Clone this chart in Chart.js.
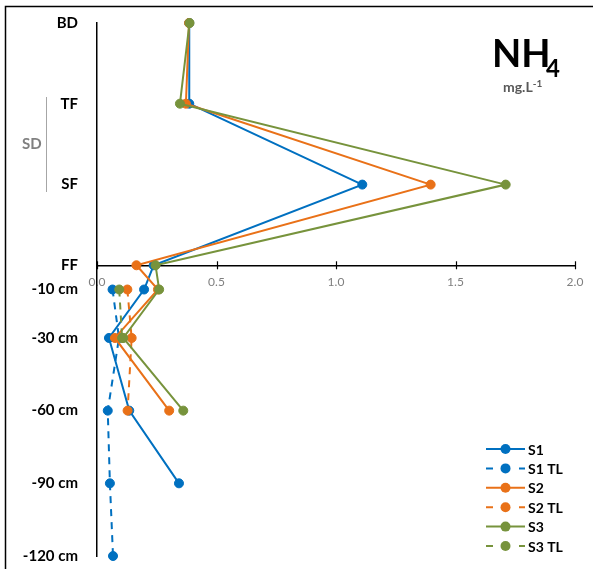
<!DOCTYPE html>
<html>
<head>
<meta charset="utf-8">
<script src="https://cdn.jsdelivr.net/npm/chart.js@4/dist/chart.umd.min.js"></script>
<style>
    body { margin: 0; background: #fff; }
    #wrap { position: relative; width: 593px; height: 569px; font-family: Lato, sans-serif; }
    #wrap canvas { position: absolute; left: 0; top: 0; }
    .txt { position: absolute; font-weight: 700; line-height: 1; white-space: nowrap; }
    #nh { left: 492px; top: 33px; font-size: 38px; color: #000; }
    #nh4 { left: 546px; top: 56px; font-size: 24px; color: #000; }
    #unit { left: 503px; top: 80px; font-size: 14px; color: #595959; }
    #unit sup { font-size: 10px; vertical-align: 5px; line-height: 0; }
    #sd { left: 22px; top: 136px; font-size: 15px; color: #808080; }
</style>
</head>
<body>
<div id="wrap">
    <canvas id="chart"></canvas>
    <div class="txt" id="nh">NH</div>
    <div class="txt" id="nh4">4</div>
    <div class="txt" id="unit">mg.L<sup>-1</sup></div>
    <div class="txt" id="sd">SD</div>
</div>
<script>
// profile levels, top to bottom (litter layers then soil depth in cm)
const levelLabels = ['BD', 'TF', 'SF', 'FF', '-10 cm', '-30 cm', '-60 cm', '-90 cm', '-120 cm'];
const levelDepths = [100, 66.7, 33.3, 0, -10, -30, -60, -90, -120];
const xTicks = [0, 0.5, 1.0, 1.5, 2.0];

// NH4 in mg/L, one value per level (null = not measured)
const s1   = [0.386, 0.386, 1.11, 0.237, 0.197, 0.05, 0.135, 0.343, null];
const s1TL = [null, null, null, null, 0.065, 0.092, 0.045, 0.054, 0.067];
const s2   = [0.385, 0.372, 1.396, 0.165, 0.255, 0.075, 0.302, null, null];
const s2TL = [null, null, null, null, 0.127, 0.145, 0.128, null, null];
const s3   = [0.387, 0.347, 1.71, 0.245, 0.26, 0.11, 0.361, null, null];
const s3TL = [null, null, null, null, 0.093, 0.105, null, null, null];

const seriesNames = ['S1', 'S1 TL', 'S2', 'S2 TL', 'S3', 'S3 TL'];
const seriesValues = [s1, s1TL, s2, s2TL, s3, s3TL];

const BLUE = '#0070C0', ORANGE = '#E97118', GREEN = '#77933C';
const colors = [BLUE, BLUE, ORANGE, ORANGE, GREEN, GREEN];

function toPoints(vals) {
    return vals.map((v, i) => v == null ? null : { x: v, y: levelDepths[i] }).filter(p => p);
}

const datasets = seriesNames.map((name, i) => {
    const dashed = name.endsWith('TL');
    return {
        label: name,
        data: toPoints(seriesValues[i]),
        showLine: true,
        clip: false,
        borderColor: colors[i],
        backgroundColor: colors[i],
        borderWidth: 2,
        borderDash: dashed ? [7, 6] : [],
        pointRadius: 4.5,
        pointHoverRadius: 4.5,
        pointBorderWidth: 1,
        pointBorderColor: colors[i],
        tension: 0,
        order: seriesNames.length - i, // later series on top, like Excel
        _dashed: dashed,
    };
});

// frame, SD bracket, cross ticks on the value axis and the legend
const decorations = {
    id: 'decorations',
    beforeDraw(chart) {
        const ctx = chart.ctx;
        ctx.save();
        ctx.fillStyle = '#fff';
        ctx.fillRect(0, 0, chart.width, chart.height);
        ctx.strokeStyle = '#000';
        ctx.lineWidth = 1.5;
        ctx.beginPath();
        ctx.moveTo(5.5, chart.height);
        ctx.lineTo(5.5, 6.5);
        ctx.lineTo(chart.width, 6.5);
        ctx.stroke();
        ctx.strokeStyle = '#a6a6a6';
        ctx.lineWidth = 1;
        ctx.beginPath();
        ctx.moveTo(46.5, 97);
        ctx.lineTo(46.5, 192);
        ctx.stroke();
        ctx.restore();
    },
    afterDraw(chart) {
        const ctx = chart.ctx;
        const xs = chart.scales.x, ys = chart.scales.y;
        const y0 = ys.getPixelForValue(0);
        ctx.save();
        ctx.strokeStyle = '#000';
        ctx.lineWidth = 1.2;
        xs.ticks.forEach(t => {
            const px = Math.round(xs.getPixelForValue(t.value)) + 0.5;
            ctx.beginPath();
            ctx.moveTo(px, y0 - 4);
            ctx.lineTo(px, y0 + 4);
            ctx.stroke();
        });

        ctx.font = 'bold 14px Lato';
        ctx.textBaseline = 'middle';
        chart.data.datasets.forEach((ds, i) => {
            const y = 449 + i * 19.4;
            ctx.strokeStyle = ds.borderColor;
            ctx.fillStyle = ds.borderColor;
            ctx.lineWidth = 2;
            ctx.beginPath();
            if (ds._dashed) {
                ctx.moveTo(486, y); ctx.lineTo(493, y);
                ctx.moveTo(519, y); ctx.lineTo(525, y);
            } else {
                ctx.moveTo(486, y); ctx.lineTo(525, y);
            }
            ctx.stroke();
            ctx.beginPath();
            ctx.arc(505.5, y, 5, 0, Math.PI * 2);
            ctx.fill();
            ctx.fillStyle = '#000';
            ctx.fillText(ds.label, 528, y + 1);
        });
        ctx.restore();
    }
};

// invisible tick marks push the labels away from the axis without
// inflating the layout padding the way ticks.padding does
const hiddenTicks = len => ({
    display: true,
    drawOnChartArea: false,
    drawTicks: true,
    tickLength: len,
    tickColor: 'rgba(0,0,0,0)',
});

new Chart(document.getElementById('chart'), {
    type: 'scatter',
    data: { datasets: datasets },
    plugins: [decorations],
    options: {
        responsive: true,
        maintainAspectRatio: false,
        animation: false,
        layout: { padding: { left: 0, right: 18, top: 23, bottom: 13 } },
        plugins: {
            legend: { display: false },
            tooltip: { enabled: false },
        },
        scales: {
            x: {
                type: 'linear',
                min: 0,
                max: 2,
                position: { y: 0 },
                afterBuildTicks: s => { s.ticks = xTicks.map(v => ({ value: v })); },
                grid: hiddenTicks(10),
                border: { display: true, color: '#000', width: 1.5 },
                ticks: {
                    callback: v => v.toFixed(1),
                    color: '#7f7f7f',
                    font: { family: 'Lato', size: 12 },
                    padding: 0,
                    maxRotation: 0,
                    autoSkip: false,
                },
            },
            y: {
                type: 'linear',
                min: -120,
                max: 100,
                afterBuildTicks: s => { s.ticks = levelDepths.map(v => ({ value: v })); },
                afterFit: s => { s.width = 97; },
                grid: hiddenTicks(19),
                border: { display: true, color: '#000', width: 1.5 },
                ticks: {
                    callback: (v, i) => levelLabels[i],
                    color: '#000',
                    font: { family: 'Lato', size: 15, weight: 'bold' },
                    padding: 0,
                    autoSkip: false,
                },
            },
        },
    },
});
</script>
</body>
</html>
